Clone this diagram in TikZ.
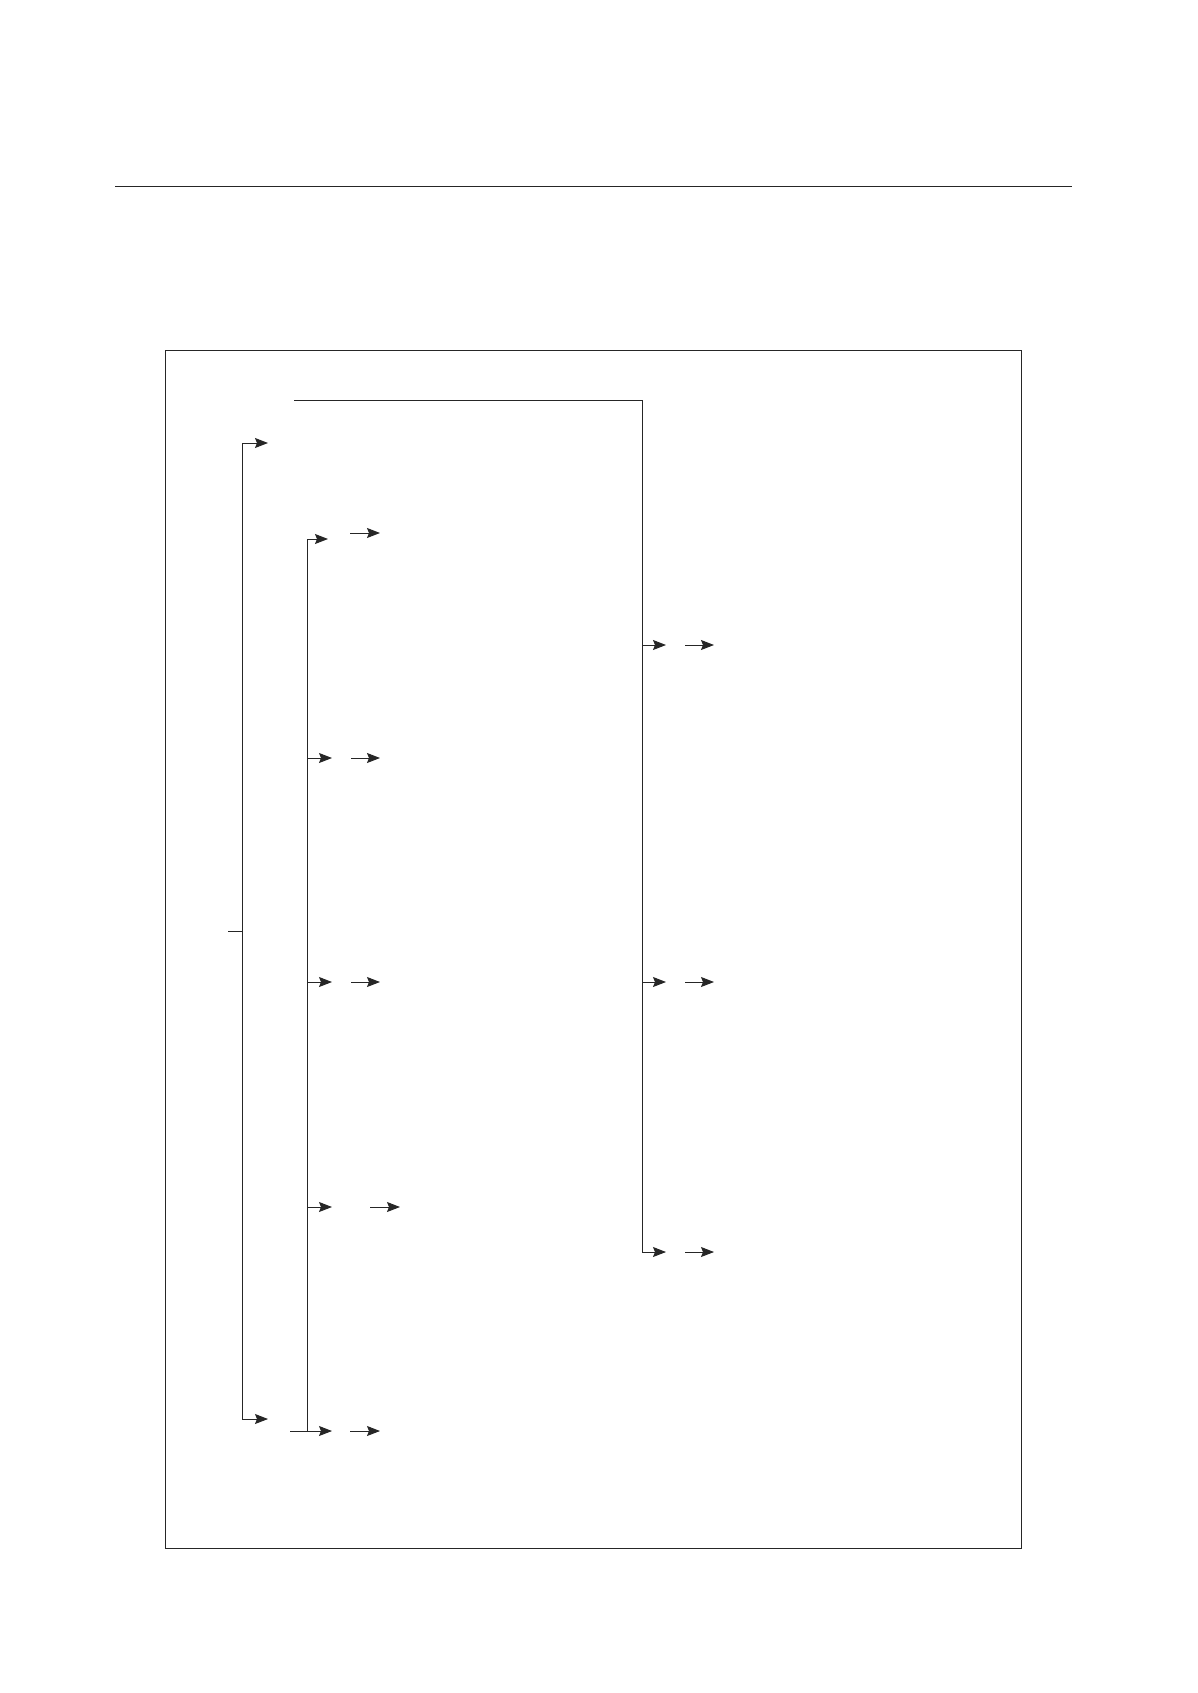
\documentclass[tikz,border=0pt]{standalone}
\usetikzlibrary{arrows.meta}
\begin{document}
\begin{tikzpicture}[x=1pt,y=-1pt,
  conn/.style={draw=black!85,line width=0.95pt},
  arr/.style={conn,-{Stealth[length=13pt,width=10pt,inset=2pt]}}]
\useasboundingbox (0,0) rectangle (1197,1693);
% header rule
\coordinate (ruleL) at (115,186);
\coordinate (ruleR) at (1072,186);
\draw[conn] (ruleL) -- (ruleR);
% frame
\coordinate (frameTL) at (165,350);
\coordinate (frameBR) at (1021,1548);
\draw[conn] (frameTL) rectangle (frameBR);
% top line and right trunk
\coordinate (topL) at (294,400);
\coordinate (topR) at (642,400);
\coordinate (r1) at (642,645);
\coordinate (r2) at (642,982);
\coordinate (r3) at (642,1252);
\draw[conn] (topL) -- (topR) -- (r3);
\foreach \y/\n in {645/a,982/b,1252/c}{
  \coordinate (rt\n) at (666,\y);
  \coordinate (rs\n) at (685,\y);
  \coordinate (re\n) at (714,\y);
}
\draw[arr] (r1) -- (rta);
\draw[arr] (r2) -- (rtb);
\draw[arr] (r3) -- (rtc);
\draw[arr] (rsa) -- (rea);
\draw[arr] (rsb) -- (reb);
\draw[arr] (rsc) -- (rec);
% left bracket
\coordinate (lb1) at (242,443);
\coordinate (lb2) at (242,1419);
\coordinate (lbt1) at (268,443);
\coordinate (lbt2) at (268,1419);
\coordinate (tickL) at (228,931);
\coordinate (tickR) at (242,931);
\draw[conn] (lb1) -- (lb2);
\draw[arr] (lb1) -- (lbt1);
\draw[arr] (lb2) -- (lbt2);
\draw[conn] (tickL) -- (tickR);
% second bracket
\coordinate (sb1) at (307,539);
\coordinate (sb2) at (307,758);
\coordinate (sb3) at (307,982);
\coordinate (sb4) at (307,1207);
\coordinate (sb5) at (307,1431);
\coordinate (sbin) at (290,1431);
\draw[conn] (sb1) -- (sb5);
\coordinate (st1) at (328,539);
\coordinate (st2) at (332,758);
\coordinate (st3) at (332,982);
\coordinate (st4) at (332,1207);
\coordinate (st5) at (332,1431);
\draw[arr] (sb1) -- (st1);
\draw[arr] (sb2) -- (st2);
\draw[arr] (sb3) -- (st3);
\draw[arr] (sb4) -- (st4);
\draw[arr] (sbin) -- (st5);
% free arrows
\coordinate (fs1) at (350,533); \coordinate (fe1) at (380,533);
\coordinate (fs2) at (351,758); \coordinate (fe2) at (380,758);
\coordinate (fs3) at (351,982); \coordinate (fe3) at (380,982);
\coordinate (fs4) at (370,1207); \coordinate (fe4) at (400,1207);
\coordinate (fs5) at (350,1431); \coordinate (fe5) at (380,1431);
\draw[arr] (fs1) -- (fe1);
\draw[arr] (fs2) -- (fe2);
\draw[arr] (fs3) -- (fe3);
\draw[arr] (fs4) -- (fe4);
\draw[arr] (fs5) -- (fe5);
\end{tikzpicture}
\end{document}
